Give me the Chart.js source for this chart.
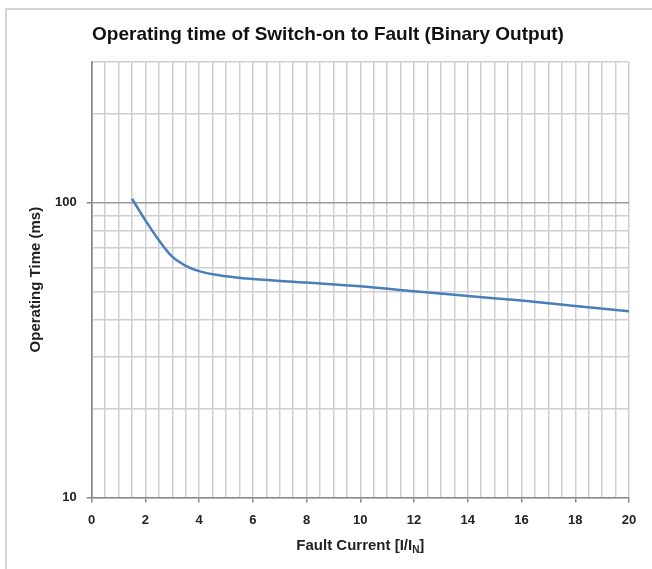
<!DOCTYPE html>
<html>
<head>
<meta charset="utf-8">
<script src="https://cdn.jsdelivr.net/npm/chart.js@4"></script>
<style>
  html, body { margin: 0; padding: 0; background: #fff; }
  #wrap { position: relative; width: 652px; height: 569px; }
</style>
</head>
<body>
<div id="wrap"><canvas id="faultChart" width="652" height="569"></canvas></div>
<script>
// 曲线数据
const faultCurrent = [1.5, 2, 2.5, 3, 3.5, 4, 5, 6, 8, 10, 12, 14, 16, 18, 20];
const operatingTime = [103, 87, 74.5, 65.5, 61, 58.5, 56.2, 55, 53.5, 52, 50, 48.2, 46.5, 44.6, 42.8];

// 坐标轴刻度
const yGridValues = [10, 20, 30, 40, 50, 60, 70, 80, 90, 100, 200, 300];
const yLabelValues = [10, 100];
const xMin = 0, xMax = 20, xGridStep = 0.5, xLabelStep = 2;

const titleText = 'Operating time of Switch-on to Fault (Binary Output)';
const yTitleText = 'Operating Time (ms)';

const tickFont = { family: 'Liberation Sans', size: 13, weight: 'bold' };

// 外框 + x 轴标题 (带下标 N)
const framePlugin = {
  id: 'frame',
  beforeDraw(chart) {
    const ctx = chart.ctx;
    ctx.save();
    ctx.fillStyle = '#d4d4d4';
    ctx.fillRect(5, 8, 647, 2);
    ctx.fillRect(5, 8, 2, 561);
    ctx.restore();
  },
  afterDraw(chart) {
    const ctx = chart.ctx;
    const area = chart.chartArea;
    const cx = (area.left + area.right) / 2;
    const y = 550;
    ctx.save();
    ctx.fillStyle = '#222';
    ctx.textBaseline = 'alphabetic';
    ctx.textAlign = 'left';
    const main = 'Fault Current [I/I';
    const sub = 'N';
    const end = ']';
    ctx.font = 'bold 15px "Liberation Sans"';
    const w1 = ctx.measureText(main).width;
    const w3 = ctx.measureText(end).width;
    ctx.font = 'bold 10px "Liberation Sans"';
    const w2 = ctx.measureText(sub).width;
    let x = cx - (w1 + w2 + w3) / 2;
    ctx.font = 'bold 15px "Liberation Sans"';
    ctx.fillText(main, x, y);
    x += w1;
    ctx.font = 'bold 10px "Liberation Sans"';
    ctx.fillText(sub, x, y + 3);
    x += w2;
    ctx.font = 'bold 15px "Liberation Sans"';
    ctx.fillText(end, x, y);
    ctx.restore();
  }
};

const isMultiple = (v, step) => Math.abs(v / step - Math.round(v / step)) < 1e-6;

new Chart(document.getElementById('faultChart'), {
  type: 'line',
  data: {
    datasets: [{
      data: faultCurrent.map((x, i) => ({ x: x, y: operatingTime[i] })),
      borderColor: '#4a7ebb',
      borderWidth: 2.5,
      pointRadius: 0,
      cubicInterpolationMode: 'monotone',
      fill: false
    }]
  },
  options: {
    responsive: false,
    animation: false,
    layout: { padding: { top: 10, right: 23, bottom: 31, left: 27 } },
    plugins: {
      legend: { display: false },
      tooltip: { enabled: false },
      title: {
        display: true,
        text: titleText,
        color: '#111',
        font: { family: 'Liberation Sans', size: 19, weight: 'bold' },
        padding: { top: 13, bottom: 16 }
      }
    },
    scales: {
      x: {
        type: 'linear',
        min: xMin,
        max: xMax,
        ticks: {
          stepSize: xGridStep,
          autoSkip: false,
          maxRotation: 0,
          color: '#222',
          font: tickFont,
          padding: 10,
          callback: v => isMultiple(v, xLabelStep) ? String(v) : ''
        },
        grid: {
          color: ctx => (ctx.tick && ctx.tick.value === xMin) ? '#888' : '#cfcfcf',
          lineWidth: 1.5,
          tickLength: 5,
          tickColor: ctx => (ctx.tick && isMultiple(ctx.tick.value, xLabelStep)) ? '#888' : 'rgba(0,0,0,0)'
        },
        border: { color: '#888', width: 1.5 }
      },
      y: {
        type: 'logarithmic',
        min: 10,
        max: 300,
        afterBuildTicks: axis => {
          axis.ticks = yGridValues.map(v => ({ value: v }));
        },
        ticks: {
          autoSkip: false,
          color: '#222',
          font: tickFont,
          padding: 10,
          callback: v => yLabelValues.includes(v) ? String(v) : ''
        },
        grid: {
          color: ctx => (ctx.tick && ctx.tick.value === 100) ? '#9a9a9a' : '#cfcfcf',
          lineWidth: 1.5,
          tickLength: 5,
          tickColor: ctx => (ctx.tick && yLabelValues.includes(ctx.tick.value)) ? '#888' : 'rgba(0,0,0,0)'
        },
        border: { color: '#888', width: 1.5 },
        title: {
          display: true,
          text: yTitleText,
          color: '#222',
          font: { family: 'Liberation Sans', size: 15, weight: 'bold' },
          padding: { top: 0, bottom: 0 }
        }
      }
    }
  },
  plugins: [framePlugin]
});
</script>
</body>
</html>
